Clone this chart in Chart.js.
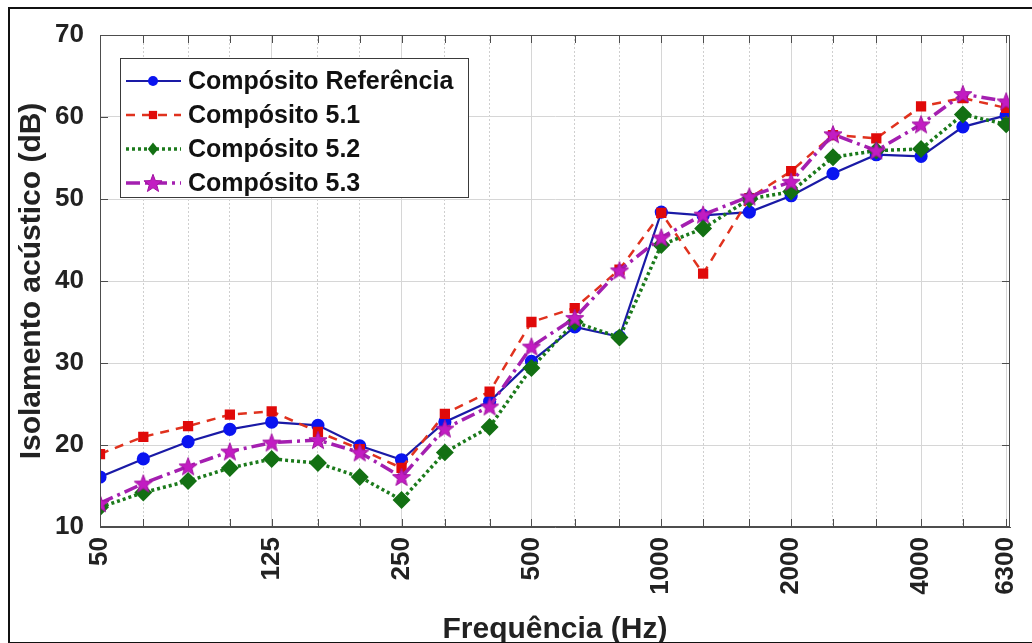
<!DOCTYPE html>
<html>
<head>
<meta charset="utf-8">
<script src="https://cdn.jsdelivr.net/npm/chart.js@4.4.0/dist/chart.umd.min.js"></script>
<style>
  html, body { margin: 0; padding: 0; background: #fff; }
  #wrap { position: relative; width: 1032px; height: 643px; }
  #frame { position: absolute; left: 8px; top: 7px; width: 1040px; height: 633px; border: 2px solid #111; pointer-events: none; }
</style>
</head>
<body>
<div id="wrap">
  <canvas id="chart" width="1032" height="643"></canvas>
  <div id="frame"></div>
</div>
<script>
// third-octave bands (Hz)
const freqs = [50, 63, 80, 100, 125, 160, 200, 250, 315, 400, 500, 630, 800, 1000, 1250, 1600, 2000, 2500, 3150, 4000, 5000, 6300];
const tickLabels = [50, 125, 250, 500, 1000, 2000, 4000, 6300];
const minorFreqs = freqs.filter(f => !tickLabels.includes(f));
const yTicks = [10, 20, 30, 40, 50, 60, 70];

// sound insulation (dB)
const referencia = [16.1, 18.3, 20.4, 21.9, 22.8, 22.4, 19.9, 18.2, 22.8, 25.3, 30.2, 34.4, 33.2, 48.4, 48.0, 48.4, 50.4, 53.1, 55.4, 55.2, 58.8, 60.2];
const comp51 = [18.9, 21.0, 22.3, 23.7, 24.1, 21.6, 19.5, 17.2, 23.8, 26.5, 35.0, 36.7, 41.4, 48.3, 40.9, 50.1, 53.4, 57.8, 57.4, 61.3, 62.3, 61.1];
const comp52 = [12.4, 14.2, 15.6, 17.2, 18.3, 17.8, 16.1, 13.3, 19.1, 22.2, 29.4, 35.0, 33.1, 44.4, 46.4, 50.0, 50.9, 55.1, 55.9, 56.1, 60.3, 59.1];
const comp53 = [12.9, 15.3, 17.4, 19.2, 20.3, 20.6, 19.1, 16.1, 22.0, 24.7, 32.0, 35.5, 41.3, 45.3, 48.1, 50.3, 52.1, 57.9, 55.9, 59.1, 62.8, 61.9];

const seriesNames = ["Compósito Referência", "Compósito 5.1", "Compósito 5.2", "Compósito 5.3"];

const toPoints = arr => arr.map((v, i) => ({ x: freqs[i], y: v }));

// filled 5-point star marker
function makeStar(size, fill, stroke) {
  const c = document.createElement("canvas");
  c.width = size; c.height = size;
  const g = c.getContext("2d");
  const cx = size / 2, cy = size / 2 + 0.8, R = size / 2 - 0.5, r = R * 0.42;
  g.beginPath();
  for (let i = 0; i < 10; i++) {
    const rad = i % 2 === 0 ? R : r;
    const a = -Math.PI / 2 + i * Math.PI / 5;
    const px = cx + rad * Math.cos(a), py = cy + rad * Math.sin(a);
    i === 0 ? g.moveTo(px, py) : g.lineTo(px, py);
  }
  g.closePath();
  g.fillStyle = fill; g.fill();
  g.strokeStyle = stroke; g.lineWidth = 1; g.stroke();
  return c;
}
const star = makeStar(20, "#c21cc2", "#a013a0");

const tickFont = { family: "Arial, 'Liberation Sans', sans-serif", size: 26, weight: "bold" };
const titleFont = { family: "Arial, 'Liberation Sans', sans-serif", size: 30, weight: "bold" };
const axisColor = "#4d4d4d";

// no extra side padding from rotated labels
const noPad = s => { s.paddingLeft = 0; s.paddingRight = 0; };

// box + inward tick marks like the original plot
const boxTicks = {
  id: "boxTicks",
  afterDatasetsDraw(chart) {
    const { ctx, chartArea: a, scales } = chart;
    ctx.save();
    ctx.strokeStyle = axisColor;
    ctx.lineWidth = 1;
    ctx.strokeRect(a.left + 0.5, a.top + 0.5, a.right - a.left - 1, a.bottom - a.top - 1);
    ctx.beginPath();
    freqs.forEach(f => {
      const x = Math.round(scales.x.getPixelForValue(f)) + 0.5;
      ctx.moveTo(x, a.bottom); ctx.lineTo(x, a.bottom - 8);
      ctx.moveTo(x, a.top); ctx.lineTo(x, a.top + 8);
    });
    yTicks.forEach(v => {
      const y = Math.round(scales.y.getPixelForValue(v)) + 0.5;
      ctx.moveTo(a.left, y); ctx.lineTo(a.left + 8, y);
      ctx.moveTo(a.right, y); ctx.lineTo(a.right - 8, y);
    });
    ctx.stroke();
    ctx.restore();
  }
};

// MATLAB style legend inside the axes
const boxLegend = {
  id: "boxLegend",
  afterDraw(chart) {
    const { ctx } = chart;
    const x0 = 120, y0 = 58, w = 348, h = 139;
    ctx.save();
    ctx.fillStyle = "#fff";
    ctx.fillRect(x0, y0, w, h);
    ctx.strokeStyle = "#3a3a3a";
    ctx.lineWidth = 1;
    ctx.strokeRect(x0 + 0.5, y0 + 0.5, w, h);
    chart.data.datasets.forEach((ds, i) => {
      const y = 81 + i * 34;
      ctx.beginPath();
      ctx.setLineDash(ds.borderDash || []);
      ctx.strokeStyle = ds.borderColor;
      ctx.lineWidth = ds.borderWidth;
      ctx.moveTo(126, y); ctx.lineTo(181, y);
      ctx.stroke();
      ctx.setLineDash([]);
      ctx.fillStyle = ds.pointBackgroundColor;
      ctx.strokeStyle = ds.pointBorderColor;
      const r = ds.pointRadius;
      if (ds.pointStyle === star) {
        ctx.drawImage(star, 153 - star.width / 2, y - star.height / 2);
      } else {
        ctx.beginPath();
        if (ds.pointStyle === "circle") ctx.arc(153, y, r - 0.5, 0, Math.PI * 2);
        else if (ds.pointStyle === "rect") ctx.rect(153 - r * 0.75, y - r * 0.75, r * 1.5, r * 1.5);
        else { ctx.moveTo(153, y - r); ctx.lineTo(153 + r * 0.8, y); ctx.lineTo(153, y + r); ctx.lineTo(153 - r * 0.8, y); ctx.closePath(); }
        ctx.fill();
      }
      ctx.fillStyle = "#111";
      ctx.font = "bold 25px Arial, 'Liberation Sans', sans-serif";
      ctx.textBaseline = "middle";
      ctx.fillText(ds.label, 188, y + 1);
    });
    ctx.restore();
  }
};

new Chart(document.getElementById("chart"), {
  type: "line",
  data: {
    datasets: [
      {
        label: seriesNames[0], data: toPoints(referencia), order: 3,
        borderColor: "#1a1aa6", borderWidth: 2.2,
        pointStyle: "circle", pointRadius: 5.5,
        pointBackgroundColor: "#0a14f0", pointBorderColor: "#0a14f0"
      },
      {
        label: seriesNames[1], data: toPoints(comp51), order: 2,
        borderColor: "#e0321e", borderWidth: 2.5, borderDash: [9, 7],
        pointStyle: "rect", pointRadius: 5.5,
        pointBackgroundColor: "#e00a0a", pointBorderColor: "#e00a0a"
      },
      {
        label: seriesNames[2], data: toPoints(comp52), order: 1,
        borderColor: "#1b7a1b", borderWidth: 3.5, borderDash: [3, 3],
        pointStyle: "rectRot", pointRadius: 6.5,
        pointBackgroundColor: "#137013", pointBorderColor: "#137013"
      },
      {
        label: seriesNames[3], data: toPoints(comp53), order: 0,
        borderColor: "#a41fb0", borderWidth: 3.5, borderDash: [14, 5, 3, 5],
        pointStyle: star, pointRadius: 10,
        pointBackgroundColor: "#c21cc2", pointBorderColor: "#a013a0"
      }
    ]
  },
  options: {
    responsive: false,
    animation: false,
    devicePixelRatio: 1,
    layout: { padding: { left: 0, right: 22, top: 35, bottom: 0 } },
    plugins: { legend: { display: false }, tooltip: { enabled: false } },
    elements: { line: { tension: 0, fill: false } },
    scales: {
      x: {
        type: "logarithmic", position: "bottom", min: 50, max: 6430,
        afterBuildTicks: s => { s.ticks = freqs.map(v => ({ value: v })); },
        afterFit: s => { s.height = 116; noPad(s); },
        ticks: {
          autoSkip: false, minRotation: 90, maxRotation: 90, padding: 10,
          color: "#222", font: tickFont,
          callback: v => tickLabels.includes(v) ? String(v) : ""
        },
        grid: {
          drawTicks: false,
          color: c => (c.tick && tickLabels.includes(c.tick.value)) ? "#d6d6d6" : "rgba(0,0,0,0)"
        },
        border: { color: axisColor },
        title: {
          display: true, text: "Frequência (Hz)", color: "#222",
          font: Object.assign({ lineHeight: 1 }, titleFont), padding: { top: 0, bottom: -2 }
        }
      },
      x2: {
        type: "logarithmic", axis: "x", position: "bottom", min: 50, max: 6430,
        afterBuildTicks: s => { s.ticks = minorFreqs.map(v => ({ value: v })); },
        afterFit: s => { noPad(s); },
        ticks: { display: false },
        grid: { drawTicks: false, color: "#cfcfcf" },
        border: { display: false, dash: [2, 2] }
      },
      y: {
        min: 10, max: 70,
        afterBuildTicks: s => { s.ticks = yTicks.map(v => ({ value: v })); },
        afterFit: s => { s.width = 100; },
        ticks: { padding: 16, color: "#222", font: tickFont },
        grid: { drawTicks: false, color: "#d6d6d6" },
        border: { color: axisColor },
        title: {
          display: true, text: "Isolamento acústico (dB)", color: "#222",
          font: titleFont, padding: { top: 14, bottom: 0 }
        }
      }
    }
  },
  plugins: [boxTicks, boxLegend]
});
</script>
</body>
</html>
